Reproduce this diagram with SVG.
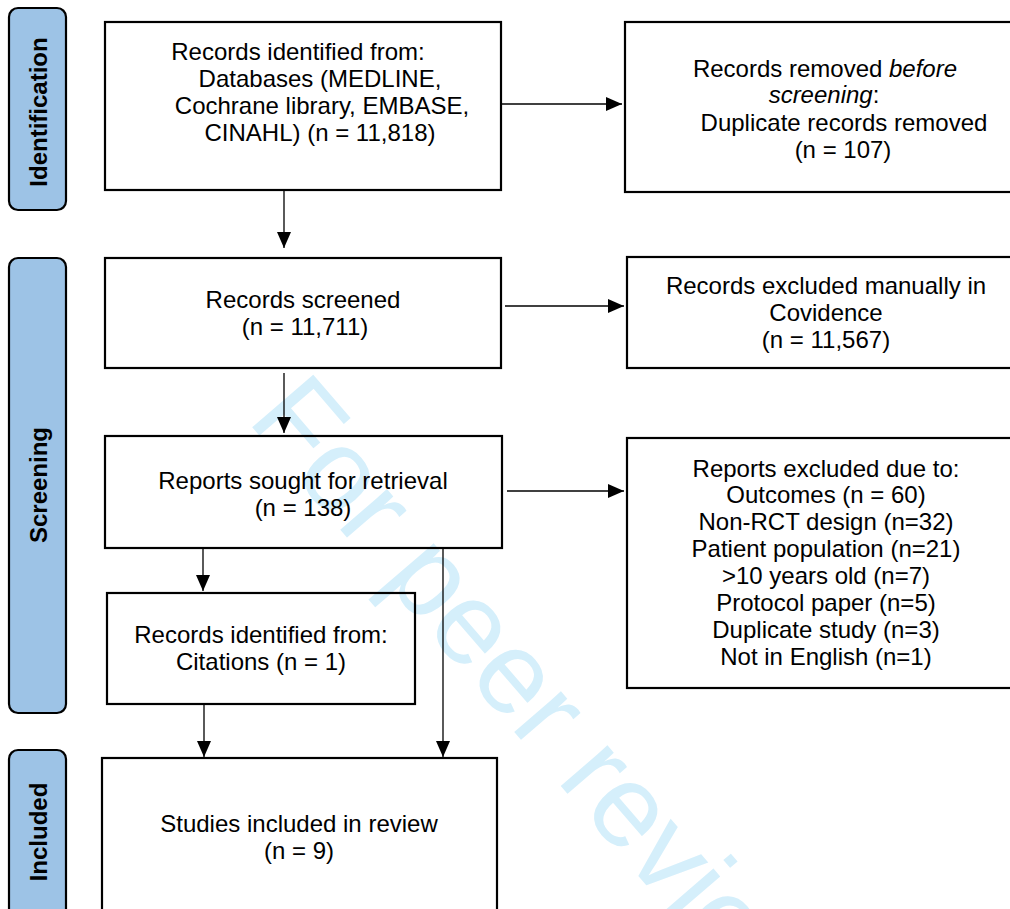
<svg xmlns="http://www.w3.org/2000/svg" width="1010" height="909" viewBox="0 0 1010 909">
<style>
.box{fill:none;stroke:#000;stroke-width:2.2}
.side{fill:#9dc3e6;stroke:#000;stroke-width:2.2}
.t{font-family:"Liberation Sans",Arial,sans-serif;font-size:24px;fill:#000;text-anchor:middle}
.s{font-family:"Liberation Sans",Arial,sans-serif;font-size:24px;font-weight:bold;fill:#000;text-anchor:middle}
.c{fill:none;stroke:#000;stroke-width:1.3;marker-end:url(#ah)}
.wm{font-family:"Liberation Sans",Arial,sans-serif;font-size:117px;fill:#d5effb}
</style>
<defs>
<marker id="ah" markerUnits="userSpaceOnUse" markerWidth="18" markerHeight="16" refX="16" refY="7" orient="auto">
<path d="M0,0 L16,7 L0,14 Z" fill="#000"/>
</marker>
</defs>
<rect width="1010" height="909" fill="#fff"/>
<text class="wm" x="246" y="420" transform="rotate(49.3 246 420)">For peer review only</text>

<g id="phase-identification">
<rect class="side" x="9" y="8" width="57" height="202" rx="9"/>
<text class="s" x="46.5" y="112" transform="rotate(-90 46.5 112)">Identification</text>
</g>
<g id="phase-screening">
<rect class="side" x="9" y="258" width="57" height="455" rx="9"/>
<text class="s" x="46.5" y="485" transform="rotate(-90 46.5 485)">Screening</text>
</g>
<g id="phase-included">
<rect class="side" x="9" y="750" width="57" height="190" rx="9"/>
<text class="s" x="46.5" y="832" transform="rotate(-90 46.5 832)">Included</text>
</g>

<g id="identified">
<rect class="box" x="105" y="22" width="396" height="168"/>
<text class="t" x="298" y="60">Records identified from:</text>
<text class="t" x="320" y="87">Databases (MEDLINE,</text>
<text class="t" x="322" y="114">Cochrane library, EMBASE,</text>
<text class="t" x="320" y="141">CINAHL) (n = 11,818)</text>
</g>
<g id="removed">
<rect class="box" x="625" y="22" width="400" height="170"/>
<text class="t" x="825" y="77">Records removed <tspan font-style="italic">before</tspan></text>
<text class="t" x="824" y="103"><tspan font-style="italic">screening</tspan>:</text>
<text class="t" x="844" y="131">Duplicate records removed</text>
<text class="t" x="843" y="158">(n = 107)</text>
</g>
<g id="screened">
<rect class="box" x="105" y="258" width="396" height="110"/>
<text class="t" x="303" y="308">Records screened</text>
<text class="t" x="305" y="335">(n = 11,711)</text>
</g>
<g id="excluded-covidence">
<rect class="box" x="627" y="257" width="400" height="111"/>
<text class="t" x="826" y="294">Records excluded manually in</text>
<text class="t" x="826" y="321">Covidence</text>
<text class="t" x="826" y="348">(n = 11,567)</text>
</g>
<g id="sought">
<rect class="box" x="105" y="436" width="397" height="112"/>
<text class="t" x="303" y="489">Reports sought for retrieval</text>
<text class="t" x="303" y="516">(n = 138)</text>
</g>
<g id="reports-excluded">
<rect class="box" x="627" y="438" width="400" height="250"/>
<text class="t" x="826" y="477">Reports excluded due to:</text>
<text class="t" x="826" y="503">Outcomes (n = 60)</text>
<text class="t" x="826" y="530">Non-RCT design (n=32)</text>
<text class="t" x="826" y="557">Patient population (n=21)</text>
<text class="t" x="826" y="584">&gt;10 years old (n=7)</text>
<text class="t" x="826" y="611">Protocol paper (n=5)</text>
<text class="t" x="826" y="638">Duplicate study (n=3)</text>
<text class="t" x="826" y="665">Not in English (n=1)</text>
</g>
<g id="citations">
<rect class="box" x="107" y="593" width="308" height="111"/>
<text class="t" x="261" y="643">Records identified from:</text>
<text class="t" x="261" y="670">Citations (n = 1)</text>
</g>
<g id="included">
<rect class="box" x="102" y="758" width="395" height="170"/>
<text class="t" x="299" y="832">Studies included in review</text>
<text class="t" x="299" y="859">(n = 9)</text>
</g>

<g id="connectors">
<line class="c" x1="501" y1="104" x2="622" y2="104"/>
<line class="c" x1="505" y1="306" x2="624" y2="306"/>
<line class="c" x1="507" y1="491" x2="624" y2="491"/>
<line class="c" x1="284" y1="190" x2="284" y2="248"/>
<line class="c" x1="284" y1="373" x2="284" y2="433"/>
<line class="c" x1="203" y1="548" x2="203" y2="591"/>
<line class="c" x1="443" y1="548" x2="443" y2="757"/>
<line class="c" x1="204" y1="704" x2="204" y2="757"/>
</g>
</svg>
